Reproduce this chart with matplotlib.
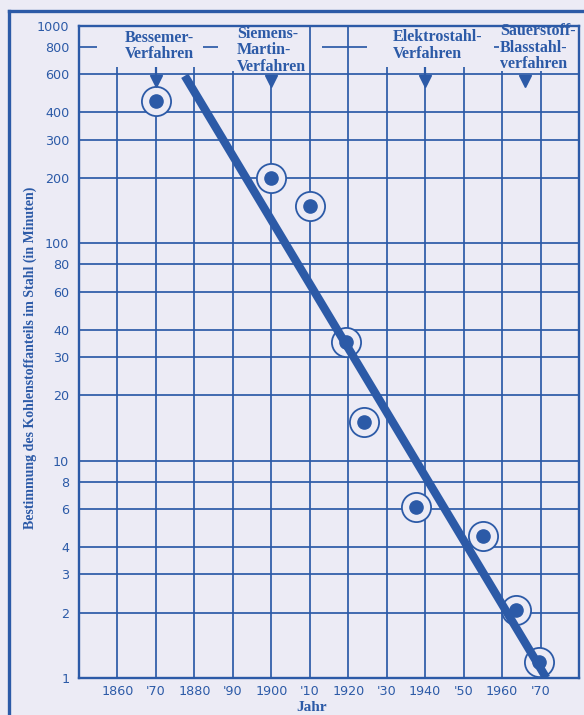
import matplotlib
matplotlib.use('Agg')
import matplotlib.pyplot as plt
from matplotlib.lines import Line2D
import numpy as np

# ---- data
years = [1870, 1900, 1910, 1919.5, 1924, 1937.5, 1955, 1963.5, 1969.5]
minutes = [450, 200, 148, 35, 15, 6.1, 4.5, 2.05, 1.18]
fit_years = [1877.5, 1971.5]
fit_minutes = [590, 1.0]

xticks = [1860, 1870, 1880, 1890, 1900, 1910, 1920, 1930, 1940, 1950, 1960, 1970]
xlabels = ['1860', "'70", '1880', "'90", '1900', "'10", '1920', "'30", '1940', "'50", '1960', "'70"]
yticks = [1, 2, 3, 4, 6, 8, 10, 20, 30, 40, 60, 80, 100, 200, 300, 400, 600, 800, 1000]

proc_names = ['Bessemer-\nVerfahren', 'Siemens-\nMartin-\nVerfahren',
              'Elektrostahl-\nVerfahren', 'Sauerstoff-\nBlasstahl-\nverfahren']
proc_years = [1870, 1900, 1940, 1966]

BLUE = '#2C5AA7'
BG = '#ECEBF5'
serif = ['Liberation Serif', 'DejaVu Serif']
GRID_LW = 1.25

fig = plt.figure(figsize=(5.84, 7.15), dpi=100, facecolor=BG)
ax = fig.add_axes([79/584, 1-678/715, 500/584, 652/715])
ax.set_facecolor(BG)
ax.set_yscale('log')
ax.set_xlim(1850, 1980)
ax.set_ylim(1, 1000)

# grid below 600 everywhere
for v in yticks:
    if v <= 600:
        ax.axhline(v, color=BLUE, lw=GRID_LW, zorder=1)
# vertical lines, tops differ in the label band
vtops = {1860: 650, 1870: 600, 1880: 650, 1890: 620, 1900: 560, 1910: 1000,
         1920: 1000, 1930: 650, 1940: 540, 1950: 650, 1960: 620, 1970: 620}
for x in xticks:
    ax.vlines(x, 1, vtops[x], color=BLUE, lw=GRID_LW, zorder=1)
# broken 800 line
for x0, x1 in [(1850, 1854.7), (1882.2, 1886.1), (1913.1, 1924.8), (1958.0, 1959.2)]:
    ax.hlines(800, x0, x1, color=BLUE, lw=GRID_LW, zorder=1)

for s in ax.spines.values():
    s.set_color(BLUE)
    s.set_linewidth(1.7)

ax.set_xticks(xticks)
ax.set_xticklabels(xlabels)
ax.set_yticks(yticks)
ax.set_yticklabels([str(v) for v in yticks])
ax.yaxis.set_minor_locator(matplotlib.ticker.NullLocator())
ax.tick_params(length=0, colors=BLUE, labelsize=9.2)
ax.tick_params(axis='y', pad=7)
ax.tick_params(axis='x', pad=5)

# trend line and measurements
ax.plot(fit_years, fit_minutes, color=BLUE, lw=6, solid_capstyle='butt', zorder=4)
ax.plot(years, minutes, 'o', ms=21, mfc=BG, mec=BLUE, mew=1.3, zorder=3)
ax.plot(years, minutes, 'o', ms=9.5, color=BLUE, zorder=5)

# process labels and arrows
ha_list = ['center', 'left', 'left', 'left']
tx_list = [1870.9, 1891.0, 1931.6, 1959.4]
ty_list = [809, 774, 813, 793]
for name, py, tx, ty, ha in zip(proc_names, proc_years, tx_list, ty_list, ha_list):
    ax.text(tx, ty, name, ha=ha, va='center', color=BLUE, fontsize=11.5,
            fontweight='bold', family=serif, linespacing=1.05, clip_on=False)
    ax.plot(py, 560, 'v', ms=8, color=BLUE, zorder=5, clip_on=False)
for py in [1870, 1940]:
    ax.vlines(py, 565, 650, color=BLUE, lw=1.6, zorder=5)

ax.set_ylabel('Bestimmung des Kohlenstoffanteils im Stahl (in Minuten)',
              color=BLUE, fontsize=10, fontweight='bold', family=serif, va='center')
ax.yaxis.set_label_coords(-0.098, 0.491)
ax.set_xlabel('Jahr', color=BLUE, fontsize=11, fontweight='bold', family=serif, va='center')
ax.xaxis.set_label_coords(0.465, -0.0445)

# page frame on left and top
fig.add_artist(Line2D([8.5/584, 8.5/584], [0, 1-10.5/715], transform=fig.transFigure,
                      color=BLUE, lw=2.4))
fig.add_artist(Line2D([8.5/584, 1], [1-10.5/715, 1-10.5/715], transform=fig.transFigure,
                      color=BLUE, lw=2.4))

fig.savefig('out.png', dpi=100, facecolor=BG)
